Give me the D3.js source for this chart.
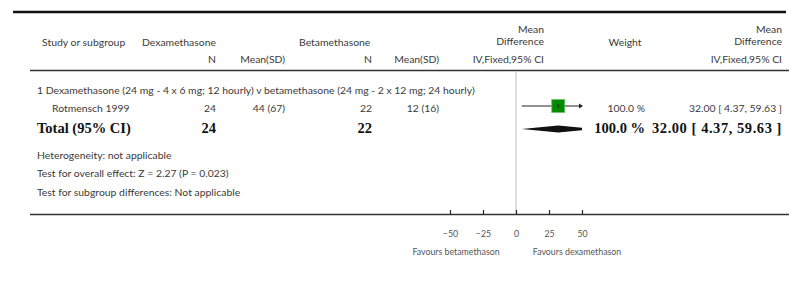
<!DOCTYPE html>
<html>
<head>
<meta charset="utf-8">
<script src="https://cdn.jsdelivr.net/npm/d3@7/dist/d3.min.js"></script>
<style>
  body { margin: 0; background: #fff; }
  text { font-family: Lato, "Open Sans", sans-serif; fill: #3a3a3a; }
  .tot { font-family: "Liberation Serif", "DejaVu Serif", serif; font-weight: bold; fill: #111; }
</style>
</head>
<body>
<div id="plot"></div>
<script>
// study rows
var studies = ["Rotmensch 1999"];
var dexN = [24];
var dexMeanSD = ["44 (67)"];
var betN = [22];
var betMeanSD = ["12 (16)"];
var md = [32.00];
var ciLow = [4.37];
var ciHigh = [59.63];
var weights = [100.0];

// pooled result
var totalDexN = 24;
var totalBetN = 22;
var totalMD = 32.00;
var totalLow = 4.37;
var totalHigh = 59.63;
var totalWeight = 100.0;

var subgroupTitle = "1 Dexamethasone (24 mg - 4 x 6 mg; 12 hourly) v betamethasone (24 mg - 2 x 12 mg; 24 hourly)";
var footNotes = ["Heterogeneity: not applicable",
                 "Test for overall effect: Z = 2.27 (P = 0.023)",
                 "Test for subgroup differences: Not applicable"];
var axisTicks = [-50, -25, 0, 25, 50];
var favours = ["Favours betamethason", "Favours dexamethason"];

var W = 794, H = 283;
var svg = d3.select("#plot").append("svg")
  .attr("width", W).attr("height", H);

var x = d3.scaleLinear().domain([-50, 50]).range([450, 582]);

function fmt(v) { return d3.format(".2f")(v); }
function ciText(m, l, h) { return fmt(m) + " [ " + fmt(l) + ", " + fmt(h) + " ]"; }

// rules
svg.append("line").attr("x1", 13).attr("x2", 786).attr("y1", 12).attr("y2", 12)
  .style("stroke", "#111").style("stroke-width", 2.5);
svg.append("line").attr("x1", 30).attr("x2", 789).attr("y1", 70.5).attr("y2", 70.5)
  .style("stroke", "#333").style("stroke-width", 1.6);
svg.append("line").attr("x1", 30).attr("x2", 789).attr("y1", 214.5).attr("y2", 214.5)
  .style("stroke", "#333").style("stroke-width", 1.6);

// zero line
svg.append("line").attr("x1", x(0)).attr("x2", x(0)).attr("y1", 71).attr("y2", 214)
  .style("stroke", "#c8c8c8").style("stroke-width", 1.2);

// header
var hdr = svg.append("g").style("font-size", "10.4px");
function t(g, xx, yy, s, anchor) {
  return g.append("text").attr("x", xx).attr("y", yy).attr("text-anchor", anchor || "start").text(s);
}
t(hdr, 42, 46, "Study or subgroup");
t(hdr, 142, 46, "Dexamethasone");
t(hdr, 299, 46, "Betamethasone");
t(hdr, 216, 63, "N", "end");
t(hdr, 285, 63, "Mean(SD)", "end");
t(hdr, 372, 63, "N", "end");
t(hdr, 439, 63, "Mean(SD)", "end");
t(hdr, 544, 33, "Mean", "end");
t(hdr, 544, 45, "Difference", "end");
t(hdr, 544, 63, "IV,Fixed,95% CI", "end");
t(hdr, 625, 46, "Weight", "middle");
t(hdr, 782, 33, "Mean", "end");
t(hdr, 782, 45, "Difference", "end");
t(hdr, 782, 63, "IV,Fixed,95% CI", "end");

// subgroup title
t(hdr, 37, 94, subgroupTitle);

// study rows
var rowY = [112];
studies.forEach(function(s, i) {
  var y = rowY[i];
  var g = svg.append("g").style("font-size", "10.4px");
  t(g, 52, y, s);
  t(g, 216, y, dexN[i], "end");
  t(g, 285, y, dexMeanSD[i], "end");
  t(g, 372, y, betN[i], "end");
  t(g, 439, y, betMeanSD[i], "end");
  t(g, 645, y, d3.format(".1f")(weights[i]) + " %", "end");
  t(g, 782, y, ciText(md[i], ciLow[i], ciHigh[i]), "end");

  var cy = y - 6;
  var lo = Math.max(ciLow[i], -50), hi = Math.min(ciHigh[i], 50);
  g.append("line").attr("x1", x(lo)).attr("x2", x(hi)).attr("y1", cy).attr("y2", cy)
    .style("stroke", "#222").style("stroke-width", 1);
  if (ciHigh[i] > 50) {
    g.append("path")
      .attr("d", "M" + (x(50) + 1) + "," + cy + "l-4,-2.5l0,5z")
      .style("fill", "#222");
  }
  var sz = 13;
  g.append("rect").attr("x", x(md[i]) - sz / 2).attr("y", cy - sz / 2)
    .attr("width", sz).attr("height", sz)
    .style("fill", "#008a00").style("stroke", "#6cc46c").style("stroke-width", 0.8);
  g.append("line").attr("x1", x(md[i])).attr("x2", x(md[i])).attr("y1", cy - 2).attr("y2", cy + 2)
    .style("stroke", "#111").style("stroke-width", 0.8);
});

// total row
var ty = 133;
var tg = svg.append("g").style("font-size", "14.5px");
t(tg, 37, ty, "Total (95% CI)").attr("class", "tot");
t(tg, 216, ty, totalDexN, "end").attr("class", "tot");
t(tg, 372, ty, totalBetN, "end").attr("class", "tot");
t(tg, 645, ty, d3.format(".1f")(totalWeight) + " %", "end").attr("class", "tot");
t(tg, 782, ty, ciText(totalMD, totalLow, totalHigh), "end").attr("class", "tot")
  .style("letter-spacing", "0.55px");

// diamond, clipped at the axis limit
var dy = ty - 4, dh = 3.5;
var xL = x(Math.max(totalLow, -50)), xC = x(totalMD), xR = x(Math.min(totalHigh, 50));
var rightH = totalHigh > 50 ? dh * (totalHigh - 50) / (totalHigh - totalMD) : 0;
var pts = [[xL, dy], [xC, dy - dh], [xR, dy - rightH], [xR, dy + rightH], [xC, dy + dh]];
svg.append("path").attr("d", d3.line()(pts) + "Z").style("fill", "#111");

// foot notes
var fy = [159, 177, 196];
var fg = svg.append("g").style("font-size", "10.4px");
footNotes.forEach(function(s, i) { t(fg, 37, fy[i], s); });

// axis
var axis = d3.axisBottom(x).tickValues(axisTicks).tickSize(-4).tickPadding(17)
  .tickFormat(d3.format("d"));
var ax = svg.append("g").attr("transform", "translate(0,214)").call(axis);
ax.select(".domain").remove();
ax.selectAll(".tick line").style("stroke", "#222").style("stroke-width", 1.2);
ax.selectAll(".tick text").style("font-family", "Lato, sans-serif")
  .style("font-size", "8.8px").style("fill", "#555");

var lg = svg.append("g").style("font-size", "8.8px");
t(lg, 456, 255, favours[0], "middle").style("fill", "#555");
t(lg, 577, 255, favours[1], "middle").style("fill", "#555");
</script>
</body>
</html>
